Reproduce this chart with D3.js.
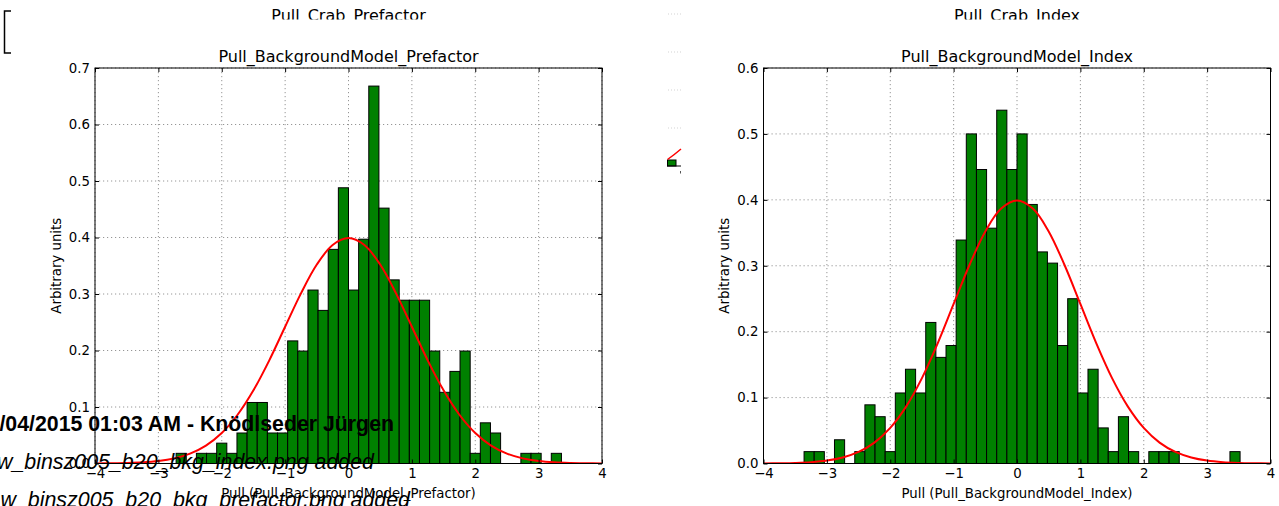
<!DOCTYPE html>
<html>
<head>
<meta charset="utf-8">
<script src="https://cdn.jsdelivr.net/npm/d3@7"></script>
<style>
  html, body { margin: 0; padding: 0; background: #fff; overflow: hidden; }
  svg { display: block; }
  .tick text { font-family: "DejaVu Sans", sans-serif; font-size: 13.3px; fill: #000; }
  .tick line { stroke: #000; }
</style>
</head>
<body>
<svg id="page" width="1279" height="506"></svg>
<script>
// Histogram bins (width 0.16), densities
const binWidth = 0.16;

const prefactorFirstEdge = -2.72;
const prefactorDensity = [
  0.018, 0, 0.018, 0.018, 0.036, 0.018, 0.054, 0.108, 0.108, 0.054,
  0.054, 0.217, 0.199, 0.307, 0.271, 0.379, 0.488, 0.307, 0.397, 0.668,
  0.452, 0.325, 0.289, 0.289, 0.289, 0.199, 0.126, 0.163, 0.199, 0.018,
  0.072, 0.054, 0, 0, 0.018, 0.018, 0, 0.018
];

const indexFirstEdge = -3.36;
const indexDensity = [
  0.018, 0.018, 0, 0.036, 0, 0.018, 0.089, 0.071, 0.018, 0.107,
  0.143, 0.107, 0.214, 0.161, 0.179, 0.339, 0.5, 0.446, 0.357, 0.536,
  0.446, 0.5, 0.393, 0.321, 0.304, 0.179, 0.25, 0.107, 0.143, 0.054,
  0.018, 0.071, 0.018, 0, 0.018, 0.018, 0.018, 0, 0, 0,
  0, 0, 0.018
];

// Red reference curve (unit gaussian), sampled every 0.25
const curveX = [
  -4, -3.75, -3.5, -3.25, -3, -2.75, -2.5, -2.25, -2, -1.75, -1.5, -1.25, -1, -0.75, -0.5, -0.25,
  0, 0.25, 0.5, 0.75, 1, 1.25, 1.5, 1.75, 2, 2.25, 2.5, 2.75, 3, 3.25, 3.5, 3.75, 4
];
const curveY = [
  0.0001, 0.0004, 0.0009, 0.0020, 0.0044, 0.0091, 0.0175, 0.0317, 0.0540, 0.0863, 0.1295, 0.1826, 0.2420, 0.3011, 0.3521, 0.3867,
  0.3989, 0.3867, 0.3521, 0.3011, 0.2420, 0.1826, 0.1295, 0.0863, 0.0540, 0.0317, 0.0175, 0.0091, 0.0044, 0.0020, 0.0009, 0.0004, 0.0001
];

const xTicks = [-4, -3, -2, -1, 0, 1, 2, 3, 4];
const prefactorYTicks = [0, 0.1, 0.2, 0.3, 0.4, 0.5, 0.6, 0.7];
const indexYTicks = [0, 0.1, 0.2, 0.3, 0.4, 0.5, 0.6];

const panels = [
  {
    title: "Pull_BackgroundModel_Prefactor",
    xLabel: "Pull (Pull_BackgroundModel_Prefactor)",
    upperTitle: "Pull_Crab_Prefactor",
    firstEdge: prefactorFirstEdge,
    density: prefactorDensity,
    yTicks: prefactorYTicks,
    yMax: 0.7,
    left: 95, right: 602, top: 68, bottom: 463.5, yLabelX: 60.5
  },
  {
    title: "Pull_BackgroundModel_Index",
    xLabel: "Pull (Pull_BackgroundModel_Index)",
    upperTitle: "Pull_Crab_Index",
    firstEdge: indexFirstEdge,
    density: indexDensity,
    yTicks: indexYTicks,
    yMax: 0.6,
    left: 763.5, right: 1270.5, top: 68, bottom: 463.5, yLabelX: 728.5
  }
];

const svg = d3.select("#page");
svg.append("rect").attr("width", 1279).attr("height", 506).attr("fill", "#fff");

const defs = svg.append("defs");
defs.append("clipPath").attr("id", "upperClip")
  .append("rect").attr("x", 0).attr("y", 0).attr("width", 1279).attr("height", 19.5);

const font = "'DejaVu Sans', sans-serif";

function drawPanel(p, idx) {
  const x = d3.scaleLinear().domain([-4, 4]).range([p.left, p.right]);
  const y = d3.scaleLinear().domain([0, p.yMax]).range([p.bottom, p.top]);
  const g = svg.append("g");

  defs.append("clipPath").attr("id", "plotClip" + idx)
    .append("rect")
    .attr("x", p.left).attr("y", p.top)
    .attr("width", p.right - p.left).attr("height", p.bottom - p.top);

  // dotted grid
  g.selectAll(".vgrid").data(xTicks).join("line")
    .attr("x1", (d) => x(d)).attr("x2", (d) => x(d))
    .attr("y1", p.top).attr("y2", p.bottom)
    .attr("stroke", "#8a8a8a").attr("stroke-width", 0.9).attr("stroke-dasharray", "1.2,2.8");
  g.selectAll(".hgrid").data(p.yTicks).join("line")
    .attr("x1", p.left).attr("x2", p.right)
    .attr("y1", (d) => y(d)).attr("y2", (d) => y(d))
    .attr("stroke", "#8a8a8a").attr("stroke-width", 0.9).attr("stroke-dasharray", "1.2,2.8");

  // histogram bars
  const bins = p.density
    .map((v, i) => ({ x0: p.firstEdge + i * binWidth, x1: p.firstEdge + (i + 1) * binWidth, v }))
    .filter((b) => b.v > 0);

  g.selectAll(".bar").data(bins).join("rect")
    .attr("x", (d) => x(d.x0))
    .attr("width", (d) => x(d.x1) - x(d.x0))
    .attr("y", (d) => y(d.v))
    .attr("height", (d) => y(0) - y(d.v))
    .attr("fill", "#008000")
    .attr("stroke", "#000")
    .attr("stroke-width", 1);

  // gaussian
  const line = d3.line()
    .x((i) => x(curveX[i]))
    .y((i) => y(curveY[i]))
    .curve(d3.curveCatmullRom);
  g.append("path")
    .attr("d", line(d3.range(curveX.length)))
    .attr("clip-path", `url(#plotClip${idx})`)
    .attr("fill", "none")
    .attr("stroke", "#ff0000")
    .attr("stroke-width", 2);

  // axes, inward ticks on all sides
  const fmtX = d3.format("d");
  const fmtY = d3.format(".1f");
  const bottomAxis = g.append("g").attr("transform", `translate(0,${p.bottom})`)
    .call(d3.axisBottom(x).tickValues(xTicks).tickSizeInner(-4).tickSizeOuter(0).tickPadding(5).tickFormat(fmtX));
  const topAxis = g.append("g").attr("transform", `translate(0,${p.top})`)
    .call(d3.axisTop(x).tickValues(xTicks).tickSizeInner(-4).tickSizeOuter(0).tickFormat(""));
  const leftAxis = g.append("g").attr("transform", `translate(${p.left},0)`)
    .call(d3.axisLeft(y).tickValues(p.yTicks).tickSizeInner(-4).tickSizeOuter(0).tickPadding(5).tickFormat(fmtY));
  const rightAxis = g.append("g").attr("transform", `translate(${p.right},0)`)
    .call(d3.axisRight(y).tickValues(p.yTicks).tickSizeInner(-4).tickSizeOuter(0).tickFormat(""));
  [bottomAxis, topAxis, leftAxis, rightAxis].forEach((a) => a.select(".domain").remove());

  // frame
  g.append("rect")
    .attr("x", p.left).attr("y", p.top)
    .attr("width", p.right - p.left).attr("height", p.bottom - p.top)
    .attr("fill", "none").attr("stroke", "#000").attr("stroke-width", 1);

  const cx = (p.left + p.right) / 2;

  g.append("text")
    .attr("x", cx).attr("y", 62)
    .attr("text-anchor", "middle")
    .attr("font-family", font).attr("font-size", "16px")
    .text(p.title);

  g.append("text")
    .attr("x", cx).attr("y", 498)
    .attr("text-anchor", "middle")
    .attr("font-family", font).attr("font-size", "13.3px")
    .text(p.xLabel);

  g.append("text")
    .attr("transform", `translate(${p.yLabelX},${(p.top + p.bottom) / 2}) rotate(-90)`)
    .attr("text-anchor", "middle")
    .attr("font-family", font).attr("font-size", "13.3px")
    .text("Arbitrary units");

  // title of the plot above, cut off by the page
  g.append("text")
    .attr("x", cx).attr("y", 21)
    .attr("clip-path", "url(#upperClip)")
    .attr("text-anchor", "middle")
    .attr("font-family", font).attr("font-size", "16px")
    .text(p.upperTitle);
}

panels.forEach(drawPanel);

// leftovers of neighbouring images
svg.append("path")
  .attr("d", "M11,11H4.5V53H11")
  .attr("fill", "none").attr("stroke", "#000").attr("stroke-width", 1.5);

const stubRows = [14, 52, 90, 128];
svg.selectAll(".stub").data(stubRows).join("line")
  .attr("x1", 668).attr("x2", 681)
  .attr("y1", (d) => d).attr("y2", (d) => d)
  .attr("stroke", "#c8c8c8").attr("stroke-width", 0.8).attr("stroke-dasharray", "1,2");
svg.append("rect").attr("x", 667.5).attr("y", 160).attr("width", 8.5).attr("height", 6)
  .attr("fill", "#008000").attr("stroke", "#000").attr("stroke-width", 1);
svg.append("line").attr("x1", 667).attr("x2", 681).attr("y1", 166).attr("y2", 166)
  .attr("stroke", "#000").attr("stroke-width", 1);
svg.append("path").attr("d", "M667.5,159.5Q674,155 681,149")
  .attr("fill", "none").attr("stroke", "#ff0000").attr("stroke-width", 1.5);
svg.append("line").attr("x1", 680.5).attr("x2", 680.5).attr("y1", 171).attr("y2", 173.5)
  .attr("stroke", "#555").attr("stroke-width", 1);

// journal text of the page, drawn over the images
const textFont = "'Liberation Sans', Arial, sans-serif";
svg.append("text")
  .attr("x", 394).attr("y", 431)
  .attr("text-anchor", "end")
  .attr("font-family", textFont).attr("font-size", "21.3px").attr("font-weight", "bold")
  .attr("fill", "#000")
  .text("/04/2015 01:03 AM - Knödlseder Jürgen");
svg.append("text")
  .attr("x", 374).attr("y", 469)
  .attr("text-anchor", "end")
  .attr("font-family", textFont).attr("font-size", "21.4px").attr("font-style", "italic")
  .attr("fill", "#000")
  .text("w_binsz005_b20_bkg_index.png added");
svg.append("text")
  .attr("x", 410).attr("y", 507)
  .attr("text-anchor", "end")
  .attr("font-family", textFont).attr("font-size", "21.4px").attr("font-style", "italic")
  .attr("fill", "#000")
  .text("w_binsz005_b20_bkg_prefactor.png added");
</script>
</body>
</html>
